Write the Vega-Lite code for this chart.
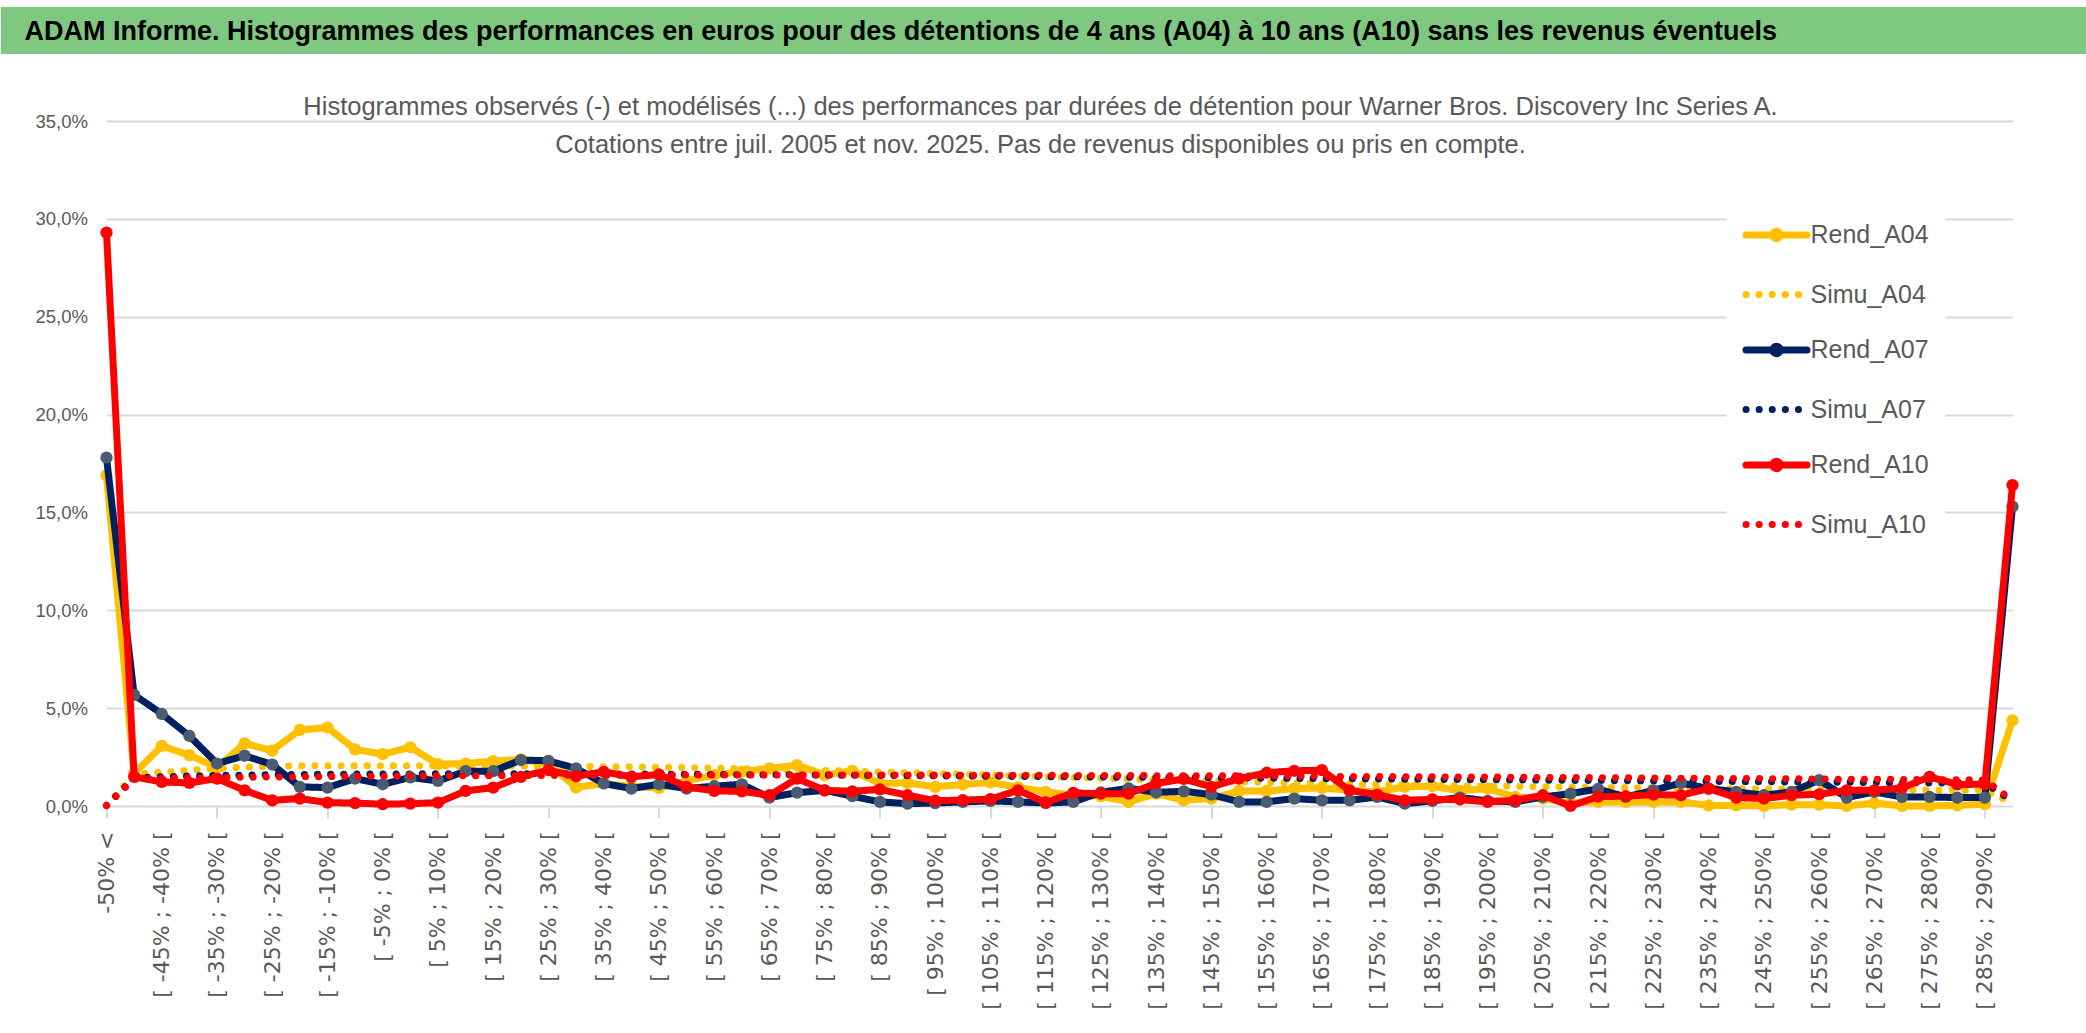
{
  "$schema": "https://vega.github.io/schema/vega-lite/v6.json",
  "background": "white",
  "padding": {"top": 6, "left": -23.5, "right": 0, "bottom": 0},
  "spacing": 40,
  "config": {
    "view": {"stroke": null},
    "font": "Liberation Sans, Arial, sans-serif"
  },
  "vconcat": [
    {
      "width": 2086,
      "height": 47,
      "view": {"fill": "#7FC87F", "stroke": null},
      "title": {
        "text": "ADAM Informe. Histogrammes des performances en euros pour des détentions de 4 ans (A04) à 10 ans (A10) sans les revenus éventuels",
        "anchor": "start",
        "frame": "group",
        "offset": -39,
        "dx": -82,
        "fontSize": 27,
        "fontWeight": "bold",
        "color": "#000000",
        "font": "Liberation Sans, Arial, sans-serif"
      },
      "data": {"values": [{}]},
      "mark": {"type": "text", "text": " "},
      "encoding": {
        "y": {
          "datum": "bandeau",
          "type": "nominal",
          "scale": {"type": "band", "paddingInner": 0, "paddingOuter": 0},
          "axis": {
            "title": null,
            "labels": false,
            "domain": false,
            "grid": false,
            "tickSize": 106,
            "tickWidth": 47,
            "tickCap": "butt",
            "tickColor": "#7FC87F"
          }
        }
      }
    },
    {
      "hconcat": [
        {
          "width": 1906,
          "height": 685,
          "title": {
            "text": [
              "Histogrammes observés (-) et modélisés (...) des performances par durées de détention pour Warner Bros. Discovery Inc Series A.",
              "Cotations entre juil. 2005 et nov. 2025. Pas de revenus disponibles ou pris en compte."
            ],
            "anchor": "middle",
            "frame": "group",
            "dx": -19,
            "offset": -46,
            "lineHeight": 38,
            "fontSize": 25.5,
            "fontWeight": "normal",
            "color": "#595959",
            "font": "Liberation Sans, Arial, sans-serif"
          },
          "data": {
            "values": [
              {"c": "-50% <", "Rend_A04": 16.9, "Simu_A04": 0.02, "Rend_A07": 17.8, "Simu_A07": 0.02, "Rend_A10": 29.3, "Simu_A10": 0.03},
              {"c": "[ -50% ; -45% [", "Rend_A04": 1.66, "Simu_A04": 1.62, "Rend_A07": 5.68, "Simu_A07": 1.45, "Rend_A10": 1.49, "Simu_A10": 1.38},
              {"c": "[ -45% ; -40% [", "Rend_A04": 3.07, "Simu_A04": 1.72, "Rend_A07": 4.71, "Simu_A07": 1.50, "Rend_A10": 1.23, "Simu_A10": 1.42},
              {"c": "[ -40% ; -35% [", "Rend_A04": 2.60, "Simu_A04": 1.82, "Rend_A07": 3.58, "Simu_A07": 1.53, "Rend_A10": 1.18, "Simu_A10": 1.44},
              {"c": "[ -35% ; -30% [", "Rend_A04": 1.97, "Simu_A04": 1.92, "Rend_A07": 2.17, "Simu_A07": 1.56, "Rend_A10": 1.40, "Simu_A10": 1.46},
              {"c": "[ -30% ; -25% [", "Rend_A04": 3.20, "Simu_A04": 1.98, "Rend_A07": 2.57, "Simu_A07": 1.58, "Rend_A10": 0.80, "Simu_A10": 1.47},
              {"c": "[ -25% ; -20% [", "Rend_A04": 2.83, "Simu_A04": 2.03, "Rend_A07": 2.12, "Simu_A07": 1.60, "Rend_A10": 0.29, "Simu_A10": 1.48},
              {"c": "[ -20% ; -15% [", "Rend_A04": 3.89, "Simu_A04": 2.05, "Rend_A07": 0.98, "Simu_A07": 1.61, "Rend_A10": 0.38, "Simu_A10": 1.49},
              {"c": "[ -15% ; -10% [", "Rend_A04": 4.01, "Simu_A04": 2.06, "Rend_A07": 0.94, "Simu_A07": 1.62, "Rend_A10": 0.17, "Simu_A10": 1.50},
              {"c": "[ -10% ; -5% [", "Rend_A04": 2.89, "Simu_A04": 2.06, "Rend_A07": 1.40, "Simu_A07": 1.63, "Rend_A10": 0.15, "Simu_A10": 1.51},
              {"c": "[ -5% ; 0% [", "Rend_A04": 2.65, "Simu_A04": 2.06, "Rend_A07": 1.11, "Simu_A07": 1.64, "Rend_A10": 0.09, "Simu_A10": 1.52},
              {"c": "[ 0% ; 5% [", "Rend_A04": 3.00, "Simu_A04": 2.06, "Rend_A07": 1.46, "Simu_A07": 1.64, "Rend_A10": 0.12, "Simu_A10": 1.53},
              {"c": "[ 5% ; 10% [", "Rend_A04": 2.14, "Simu_A04": 2.05, "Rend_A07": 1.28, "Simu_A07": 1.65, "Rend_A10": 0.17, "Simu_A10": 1.54},
              {"c": "[ 10% ; 15% [", "Rend_A04": 2.17, "Simu_A04": 2.05, "Rend_A07": 1.78, "Simu_A07": 1.65, "Rend_A10": 0.77, "Simu_A10": 1.55},
              {"c": "[ 15% ; 20% [", "Rend_A04": 2.29, "Simu_A04": 2.04, "Rend_A07": 1.78, "Simu_A07": 1.65, "Rend_A10": 0.94, "Simu_A10": 1.55},
              {"c": "[ 20% ; 25% [", "Rend_A04": 2.38, "Simu_A04": 2.04, "Rend_A07": 2.35, "Simu_A07": 1.65, "Rend_A10": 1.49, "Simu_A10": 1.56},
              {"c": "[ 25% ; 30% [", "Rend_A04": 2.14, "Simu_A04": 2.03, "Rend_A07": 2.31, "Simu_A07": 1.65, "Rend_A10": 1.83, "Simu_A10": 1.56},
              {"c": "[ 30% ; 35% [", "Rend_A04": 0.95, "Simu_A04": 2.02, "Rend_A07": 1.92, "Simu_A07": 1.64, "Rend_A10": 1.52, "Simu_A10": 1.57},
              {"c": "[ 35% ; 40% [", "Rend_A04": 1.15, "Simu_A04": 2.01, "Rend_A07": 1.15, "Simu_A07": 1.64, "Rend_A10": 1.75, "Simu_A10": 1.57},
              {"c": "[ 40% ; 45% [", "Rend_A04": 1.00, "Simu_A04": 2.00, "Rend_A07": 0.89, "Simu_A07": 1.63, "Rend_A10": 1.49, "Simu_A10": 1.57},
              {"c": "[ 45% ; 50% [", "Rend_A04": 0.92, "Simu_A04": 1.98, "Rend_A07": 1.11, "Simu_A07": 1.63, "Rend_A10": 1.61, "Simu_A10": 1.58},
              {"c": "[ 50% ; 55% [", "Rend_A04": 1.28, "Simu_A04": 1.96, "Rend_A07": 0.89, "Simu_A07": 1.62, "Rend_A10": 0.98, "Simu_A10": 1.58},
              {"c": "[ 55% ; 60% [", "Rend_A04": 1.58, "Simu_A04": 1.94, "Rend_A07": 1.01, "Simu_A07": 1.61, "Rend_A10": 0.77, "Simu_A10": 1.58},
              {"c": "[ 60% ; 65% [", "Rend_A04": 1.75, "Simu_A04": 1.91, "Rend_A07": 1.11, "Simu_A07": 1.60, "Rend_A10": 0.75, "Simu_A10": 1.58},
              {"c": "[ 65% ; 70% [", "Rend_A04": 1.92, "Simu_A04": 1.88, "Rend_A07": 0.43, "Simu_A07": 1.60, "Rend_A10": 0.55, "Simu_A10": 1.58},
              {"c": "[ 70% ; 75% [", "Rend_A04": 2.09, "Simu_A04": 1.85, "Rend_A07": 0.68, "Simu_A07": 1.59, "Rend_A10": 1.40, "Simu_A10": 1.58},
              {"c": "[ 75% ; 80% [", "Rend_A04": 1.58, "Simu_A04": 1.82, "Rend_A07": 0.80, "Simu_A07": 1.58, "Rend_A10": 0.80, "Simu_A10": 1.58},
              {"c": "[ 80% ; 85% [", "Rend_A04": 1.80, "Simu_A04": 1.78, "Rend_A07": 0.50, "Simu_A07": 1.57, "Rend_A10": 0.75, "Simu_A10": 1.58},
              {"c": "[ 85% ; 90% [", "Rend_A04": 1.15, "Simu_A04": 1.74, "Rend_A07": 0.21, "Simu_A07": 1.56, "Rend_A10": 0.85, "Simu_A10": 1.58},
              {"c": "[ 90% ; 95% [", "Rend_A04": 1.18, "Simu_A04": 1.70, "Rend_A07": 0.12, "Simu_A07": 1.55, "Rend_A10": 0.55, "Simu_A10": 1.58},
              {"c": "[ 95% ; 100% [", "Rend_A04": 0.98, "Simu_A04": 1.66, "Rend_A07": 0.15, "Simu_A07": 1.54, "Rend_A10": 0.27, "Simu_A10": 1.58},
              {"c": "[ 100% ; 105% [", "Rend_A04": 1.10, "Simu_A04": 1.62, "Rend_A07": 0.21, "Simu_A07": 1.53, "Rend_A10": 0.30, "Simu_A10": 1.57},
              {"c": "[ 105% ; 110% [", "Rend_A04": 1.20, "Simu_A04": 1.58, "Rend_A07": 0.26, "Simu_A07": 1.52, "Rend_A10": 0.35, "Simu_A10": 1.57},
              {"c": "[ 110% ; 115% [", "Rend_A04": 0.95, "Simu_A04": 1.54, "Rend_A07": 0.21, "Simu_A07": 1.51, "Rend_A10": 0.80, "Simu_A10": 1.57},
              {"c": "[ 115% ; 120% [", "Rend_A04": 0.72, "Simu_A04": 1.50, "Rend_A07": 0.15, "Simu_A07": 1.50, "Rend_A10": 0.18, "Simu_A10": 1.57},
              {"c": "[ 120% ; 125% [", "Rend_A04": 0.55, "Simu_A04": 1.46, "Rend_A07": 0.21, "Simu_A07": 1.49, "Rend_A10": 0.67, "Simu_A10": 1.56},
              {"c": "[ 125% ; 130% [", "Rend_A04": 0.50, "Simu_A04": 1.42, "Rend_A07": 0.70, "Simu_A07": 1.48, "Rend_A10": 0.63, "Simu_A10": 1.56},
              {"c": "[ 130% ; 135% [", "Rend_A04": 0.21, "Simu_A04": 1.38, "Rend_A07": 0.90, "Simu_A07": 1.47, "Rend_A10": 0.63, "Simu_A10": 1.56},
              {"c": "[ 135% ; 140% [", "Rend_A04": 0.63, "Simu_A04": 1.34, "Rend_A07": 0.70, "Simu_A07": 1.46, "Rend_A10": 1.15, "Simu_A10": 1.55},
              {"c": "[ 140% ; 145% [", "Rend_A04": 0.29, "Simu_A04": 1.30, "Rend_A07": 0.75, "Simu_A07": 1.45, "Rend_A10": 1.38, "Simu_A10": 1.55},
              {"c": "[ 145% ; 150% [", "Rend_A04": 0.38, "Simu_A04": 1.27, "Rend_A07": 0.58, "Simu_A07": 1.44, "Rend_A10": 0.98, "Simu_A10": 1.54},
              {"c": "[ 150% ; 155% [", "Rend_A04": 0.77, "Simu_A04": 1.24, "Rend_A07": 0.21, "Simu_A07": 1.43, "Rend_A10": 1.40, "Simu_A10": 1.54},
              {"c": "[ 155% ; 160% [", "Rend_A04": 0.77, "Simu_A04": 1.21, "Rend_A07": 0.21, "Simu_A07": 1.42, "Rend_A10": 1.70, "Simu_A10": 1.53},
              {"c": "[ 160% ; 165% [", "Rend_A04": 0.89, "Simu_A04": 1.18, "Rend_A07": 0.38, "Simu_A07": 1.41, "Rend_A10": 1.80, "Simu_A10": 1.53},
              {"c": "[ 165% ; 170% [", "Rend_A04": 0.92, "Simu_A04": 1.15, "Rend_A07": 0.29, "Simu_A07": 1.40, "Rend_A10": 1.83, "Simu_A10": 1.52},
              {"c": "[ 170% ; 175% [", "Rend_A04": 0.80, "Simu_A04": 1.12, "Rend_A07": 0.29, "Simu_A07": 1.39, "Rend_A10": 0.80, "Simu_A10": 1.51},
              {"c": "[ 175% ; 180% [", "Rend_A04": 0.72, "Simu_A04": 1.10, "Rend_A07": 0.46, "Simu_A07": 1.38, "Rend_A10": 0.58, "Simu_A10": 1.51},
              {"c": "[ 180% ; 185% [", "Rend_A04": 0.98, "Simu_A04": 1.08, "Rend_A07": 0.12, "Simu_A07": 1.37, "Rend_A10": 0.29, "Simu_A10": 1.50},
              {"c": "[ 185% ; 190% [", "Rend_A04": 1.01, "Simu_A04": 1.06, "Rend_A07": 0.26, "Simu_A07": 1.36, "Rend_A10": 0.34, "Simu_A10": 1.49},
              {"c": "[ 190% ; 195% [", "Rend_A04": 0.77, "Simu_A04": 1.04, "Rend_A07": 0.43, "Simu_A07": 1.35, "Rend_A10": 0.33, "Simu_A10": 1.48},
              {"c": "[ 195% ; 200% [", "Rend_A04": 0.89, "Simu_A04": 1.02, "Rend_A07": 0.26, "Simu_A07": 1.34, "Rend_A10": 0.21, "Simu_A10": 1.48},
              {"c": "[ 200% ; 205% [", "Rend_A04": 0.46, "Simu_A04": 1.00, "Rend_A07": 0.21, "Simu_A07": 1.33, "Rend_A10": 0.29, "Simu_A10": 1.47},
              {"c": "[ 205% ; 210% [", "Rend_A04": 0.38, "Simu_A04": 0.98, "Rend_A07": 0.46, "Simu_A07": 1.32, "Rend_A10": 0.55, "Simu_A10": 1.46},
              {"c": "[ 210% ; 215% [", "Rend_A04": 0.15, "Simu_A04": 0.97, "Rend_A07": 0.63, "Simu_A07": 1.31, "Rend_A10": 0.00, "Simu_A10": 1.45},
              {"c": "[ 215% ; 220% [", "Rend_A04": 0.21, "Simu_A04": 0.95, "Rend_A07": 0.87, "Simu_A07": 1.30, "Rend_A10": 0.48, "Simu_A10": 1.45},
              {"c": "[ 220% ; 225% [", "Rend_A04": 0.21, "Simu_A04": 0.94, "Rend_A07": 0.46, "Simu_A07": 1.29, "Rend_A10": 0.50, "Simu_A10": 1.44},
              {"c": "[ 225% ; 230% [", "Rend_A04": 0.21, "Simu_A04": 0.92, "Rend_A07": 0.80, "Simu_A07": 1.28, "Rend_A10": 0.58, "Simu_A10": 1.43},
              {"c": "[ 230% ; 235% [", "Rend_A04": 0.21, "Simu_A04": 0.91, "Rend_A07": 1.18, "Simu_A07": 1.27, "Rend_A10": 0.55, "Simu_A10": 1.42},
              {"c": "[ 235% ; 240% [", "Rend_A04": 0.03, "Simu_A04": 0.90, "Rend_A07": 0.89, "Simu_A07": 1.26, "Rend_A10": 0.89, "Simu_A10": 1.41},
              {"c": "[ 240% ; 245% [", "Rend_A04": 0.03, "Simu_A04": 0.88, "Rend_A07": 0.72, "Simu_A07": 1.25, "Rend_A10": 0.43, "Simu_A10": 1.41},
              {"c": "[ 245% ; 250% [", "Rend_A04": 0.00, "Simu_A04": 0.87, "Rend_A07": 0.55, "Simu_A07": 1.24, "Rend_A10": 0.38, "Simu_A10": 1.40},
              {"c": "[ 250% ; 255% [", "Rend_A04": 0.07, "Simu_A04": 0.86, "Rend_A07": 0.72, "Simu_A07": 1.23, "Rend_A10": 0.55, "Simu_A10": 1.39},
              {"c": "[ 255% ; 260% [", "Rend_A04": 0.07, "Simu_A04": 0.85, "Rend_A07": 1.32, "Simu_A07": 1.22, "Rend_A10": 0.60, "Simu_A10": 1.38},
              {"c": "[ 260% ; 265% [", "Rend_A04": 0.00, "Simu_A04": 0.84, "Rend_A07": 0.43, "Simu_A07": 1.21, "Rend_A10": 0.80, "Simu_A10": 1.37},
              {"c": "[ 265% ; 270% [", "Rend_A04": 0.15, "Simu_A04": 0.83, "Rend_A07": 0.72, "Simu_A07": 1.20, "Rend_A10": 0.80, "Simu_A10": 1.37},
              {"c": "[ 270% ; 275% [", "Rend_A04": 0.00, "Simu_A04": 0.82, "Rend_A07": 0.46, "Simu_A07": 1.19, "Rend_A10": 0.92, "Simu_A10": 1.36},
              {"c": "[ 275% ; 280% [", "Rend_A04": 0.00, "Simu_A04": 0.81, "Rend_A07": 0.46, "Simu_A07": 1.18, "Rend_A10": 1.49, "Simu_A10": 1.35},
              {"c": "[ 280% ; 285% [", "Rend_A04": 0.03, "Simu_A04": 0.80, "Rend_A07": 0.43, "Simu_A07": 1.17, "Rend_A10": 1.10, "Simu_A10": 1.34},
              {"c": "[ 285% ; 290% [", "Rend_A04": 0.09, "Simu_A04": 0.79, "Rend_A07": 0.43, "Simu_A07": 1.16, "Rend_A10": 1.11, "Simu_A10": 1.33},
              {"c": "> 290%", "Rend_A04": 4.37, "Simu_A04": 0.15, "Rend_A07": 15.3, "Simu_A07": 0.25, "Rend_A10": 16.4, "Simu_A10": 0.29}
            ]
          },
          "transform": [
            {"fold": ["Rend_A04", "Simu_A04", "Rend_A07", "Simu_A07", "Rend_A10", "Simu_A10"], "as": ["serie", "v"]}
          ],
          "encoding": {
            "x": {
              "field": "c",
              "type": "nominal",
              "sort": null,
              "scale": {"type": "point", "padding": 0},
              "axis": {
                "title": null,
                "values": ["-50% <", "[ -45% ; -40% [", "[ -35% ; -30% [", "[ -25% ; -20% [", "[ -15% ; -10% [", "[ -5% ; 0% [", "[ 5% ; 10% [", "[ 15% ; 20% [", "[ 25% ; 30% [", "[ 35% ; 40% [", "[ 45% ; 50% [", "[ 55% ; 60% [", "[ 65% ; 70% [", "[ 75% ; 80% [", "[ 85% ; 90% [", "[ 95% ; 100% [", "[ 105% ; 110% [", "[ 115% ; 120% [", "[ 125% ; 130% [", "[ 135% ; 140% [", "[ 145% ; 150% [", "[ 155% ; 160% [", "[ 165% ; 170% [", "[ 175% ; 180% [", "[ 185% ; 190% [", "[ 195% ; 200% [", "[ 205% ; 210% [", "[ 215% ; 220% [", "[ 225% ; 230% [", "[ 235% ; 240% [", "[ 245% ; 250% [", "[ 255% ; 260% [", "[ 265% ; 270% [", "[ 275% ; 280% [", "[ 285% ; 290% ["],
                "labelAngle": -90,
                "labelFont": "DejaVu Sans",
                "labelFontSize": 22,
                "labelColor": "#595959",
                "labelPadding": 13,
                "labelLimit": 300,
                "labelOverlap": false,
                "labelBound": false,
                "domain": false,
                "tickSize": 12,
                "tickWidth": 2,
                "tickColor": "#D9D9D9",
                "tickOpacity": {"condition": {"test": "indexof(['-50% <', '[ -35% ; -30% [', '[ -15% ; -10% [', '[ 5% ; 10% [', '[ 25% ; 30% [', '[ 45% ; 50% [', '[ 65% ; 70% [', '[ 85% ; 90% [', '[ 105% ; 110% [', '[ 125% ; 130% [', '[ 145% ; 150% [', '[ 165% ; 170% [', '[ 185% ; 190% [', '[ 205% ; 210% [', '[ 225% ; 230% [', '[ 245% ; 250% [', '[ 265% ; 270% [', '[ 285% ; 290% ['], datum.value) >= 0", "value": 1}, "value": 0},
                "gridColor": "#D9D9D9",
                "gridWidth": 2,
                "gridOpacity": {"condition": {"test": "indexof(['-50% <', '[ -35% ; -30% [', '[ -15% ; -10% [', '[ 5% ; 10% [', '[ 25% ; 30% [', '[ 45% ; 50% [', '[ 65% ; 70% [', '[ 85% ; 90% [', '[ 105% ; 110% [', '[ 125% ; 130% [', '[ 145% ; 150% [', '[ 165% ; 170% [', '[ 185% ; 190% [', '[ 205% ; 210% [', '[ 225% ; 230% [', '[ 245% ; 250% [', '[ 265% ; 270% [', '[ 285% ; 290% ['], datum.value) >= 0", "value": 1}, "value": 0}
              }
            },
            "y": {
              "field": "v",
              "type": "quantitative",
              "scale": {"domain": [0, 35], "nice": false},
              "axis": {
                "title": null,
                "values": [0, 5, 10, 15, 20, 25, 30, 35],
                "labelExpr": "replace(format(datum.value, '.1f'), '.', ',') + '%'",
                "labelFontSize": 18.5,
                "labelColor": "#595959",
                "labelPadding": 19,
                "minExtent": 106,
                "ticks": false,
                "domain": false,
                "gridColor": "#D9D9D9",
                "gridWidth": 2
              }
            },
            "order": {"value": null}
          },
          "layer": [
            {
              "transform": [{"filter": {"field": "serie", "oneOf": ["Rend_A04", "Simu_A04"]}}],
              "mark": {"type": "line", "strokeWidth": 7, "strokeCap": "round", "strokeJoin": "round"},
              "encoding": {
                "stroke": {
                  "field": "serie",
                  "type": "nominal",
                  "scale": {
                    "domain": ["Rend_A04", "Simu_A04", "Rend_A07", "Simu_A07", "Rend_A10", "Simu_A10"],
                    "range": ["#FFC000", "#FFC000", "#002060", "#002060", "#FF0000", "#FF0000"]
                  },
                  "legend": {
                    "title": null,
                    "orient": "none",
                    "legendX": 1620,
                    "legendY": 178,
                    "symbolType": "stroke",
                    "symbolSize": 3721,
                    "symbolStrokeWidth": 7,
                    "labelFontSize": 25,
                    "labelColor": "#595959",
                    "labelOffset": 0,
                    "labelLimit": 300,
                    "rowPadding": 7.5,
                    "padding": 16,
                    "fillColor": "white",
                    "encoding": {
                      "symbols": {
                        "strokeCap": {"value": "round"},
                        "shape": {
                          "condition": {"test": "indexof(datum.value, 'Rend') == 0", "value": "M-1,0H1M0.12,0A0.12,0.12 0 1 1 -0.12,0A0.12,0.12 0 1 1 0.12,0"},
                          "value": "stroke"
                        }
                      }
                    }
                  }
                },
                "strokeDash": {
                  "field": "serie",
                  "type": "nominal",
                  "scale": {
                    "domain": ["Rend_A04", "Simu_A04", "Rend_A07", "Simu_A07", "Rend_A10", "Simu_A10"],
                    "range": [[1, 0], [0.1, 13], [1, 0], [0.1, 13], [1, 0], [0.1, 13]]
                  }
                }
              }
            },
            {
              "transform": [{"filter": {"field": "serie", "equal": "Rend_A04"}}],
              "mark": {"type": "circle", "size": 150, "opacity": 1, "strokeWidth": 0},
              "encoding": {
                "fill": {
                  "field": "serie",
                  "type": "nominal",
                  "scale": {"domain": ["Rend_A04", "Rend_A07", "Rend_A10"], "range": ["#FFC000", "#4A5B72", "#FF0000"]},
                  "legend": null
                }
              }
            },
            {
              "transform": [{"filter": {"field": "serie", "oneOf": ["Rend_A07", "Simu_A07"]}}],
              "mark": {"type": "line", "strokeWidth": 7, "strokeCap": "round", "strokeJoin": "round"},
              "encoding": {
                "stroke": {"field": "serie", "type": "nominal"},
                "strokeDash": {"field": "serie", "type": "nominal"}
              }
            },
            {
              "transform": [{"filter": {"field": "serie", "equal": "Rend_A07"}}],
              "mark": {"type": "circle", "size": 150, "opacity": 1, "strokeWidth": 0},
              "encoding": {
                "fill": {"field": "serie", "type": "nominal", "legend": null}
              }
            },
            {
              "transform": [{"filter": {"field": "serie", "oneOf": ["Rend_A10", "Simu_A10"]}}],
              "mark": {"type": "line", "strokeWidth": 7, "strokeCap": "round", "strokeJoin": "round"},
              "encoding": {
                "stroke": {"field": "serie", "type": "nominal"},
                "strokeDash": {"field": "serie", "type": "nominal"}
              }
            },
            {
              "transform": [{"filter": {"field": "serie", "equal": "Rend_A10"}}],
              "mark": {"type": "circle", "size": 150, "opacity": 1, "strokeWidth": 0},
              "encoding": {
                "fill": {"field": "serie", "type": "nominal", "legend": null}
              }
            }
          ]
        }
      ]
    }
  ]
}
